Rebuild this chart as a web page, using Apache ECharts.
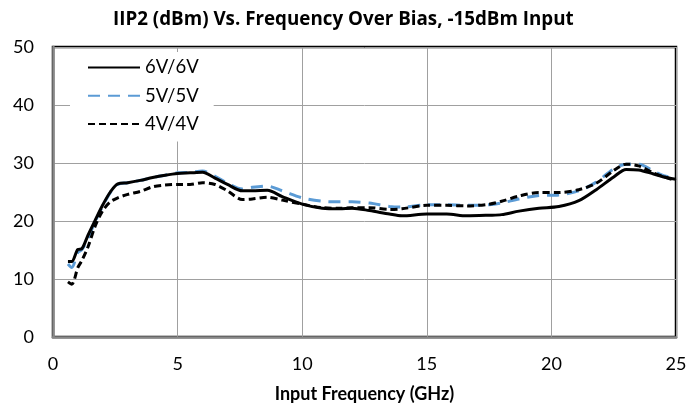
<!DOCTYPE html>
<html>
<head>
<meta charset="utf-8">
<script src="https://cdn.jsdelivr.net/npm/echarts@6/dist/echarts.min.js"></script>
<style>html,body{margin:0;padding:0;background:#fff;}#c{width:699px;height:404px;}</style>
</head>
<body>
<div id="c"></div>
<script>
const freq = [0.6, 0.75, 1.0, 1.15, 1.4, 1.7, 2.0, 2.3, 2.6, 3.0, 3.5, 4.0, 4.5, 5.0, 5.5, 6.0, 6.5, 7.0, 7.6, 8.0, 8.6, 9.2, 10.0, 10.8, 11.5, 12.0, 12.7, 13.5, 14.0, 15.0, 15.8, 16.6, 17.5, 18.0, 18.7, 19.5, 20.3, 21.1, 21.8, 22.5, 23.0, 23.5, 24.1, 24.6, 25.0];
const v6 = [13.0, 13.0, 15.1, 15.2, 17.5, 20.2, 22.8, 25.0, 26.4, 26.6, 27.0, 27.5, 27.9, 28.2, 28.3, 28.4, 27.4, 26.3, 25.2, 25.2, 25.3, 24.2, 22.9, 22.2, 22.1, 22.2, 21.8, 21.2, 20.9, 21.2, 21.2, 20.9, 21.0, 21.1, 21.7, 22.2, 22.5, 23.5, 25.4, 27.6, 28.9, 28.8, 28.1, 27.5, 27.2];
const v5 = [12.6, 12.0, 14.6, 15.0, 17.0, 20.0, 22.6, 24.9, 26.3, 26.6, 27.0, 27.5, 27.9, 28.3, 28.4, 28.6, 27.7, 26.5, 25.5, 25.8, 26.0, 25.2, 24.0, 23.4, 23.3, 23.3, 23.1, 22.5, 22.4, 22.8, 22.8, 22.7, 22.8, 23.1, 23.8, 24.4, 24.5, 25.2, 26.7, 29.0, 29.8, 29.8, 28.6, 27.7, 27.6];
const v4 = [9.5, 9.1, 12.0, 13.1, 15.5, 19.2, 21.8, 23.3, 24.0, 24.6, 25.1, 25.9, 26.2, 26.3, 26.3, 26.6, 26.3, 25.2, 23.7, 23.8, 24.1, 23.6, 22.9, 22.3, 22.2, 22.3, 22.3, 22.0, 22.1, 22.7, 22.7, 22.6, 22.9, 23.4, 24.3, 24.9, 24.9, 25.4, 26.5, 28.7, 29.8, 29.5, 28.3, 27.5, 27.0];
const seriesNames = ['6V/6V', '5V/5V', '4V/4V'];
const titleText = 'IIP2 (dBm) Vs. Frequency Over Bias, -15dBm Input';
const xName = 'Input Frequency (GHz)';

const FONT = 'Lato';
const pair = (ys) => freq.map((f, i) => [f, ys[i]]);
const chart = echarts.init(document.getElementById('c'), null, {renderer: 'canvas'});
chart.setOption({
  animation: false,
  backgroundColor: '#fff',
  title: {
    text: titleText, left: 108, top: 5,
    textStyle: {fontFamily: 'Open Sans', fontWeight: 'bold', fontSize: 18.8, color: '#000'}
  },
  grid: {left: 53, right: 23, top: 47, bottom: 67, containLabel: false, outerBoundsMode: 'none',
         show: true, borderColor: '#000', borderWidth: 2.5, backgroundColor: 'transparent'},
  legend: {
    orient: 'vertical', left: 70, top: 52, itemWidth: 52, itemHeight: 14, itemGap: 9.2,
    backgroundColor: '#fff', padding: [6, 15, 8, 17],
    itemStyle: {opacity: 0},
    textStyle: {fontFamily: FONT, fontSize: 18.5, color: '#000'},
    data: seriesNames
  },
  xAxis: {
    type: 'value', min: 0, max: 25, interval: 5,
    name: xName, nameLocation: 'middle', nameGap: 48,
    nameTextStyle: {fontFamily: FONT, fontWeight: 'bold', fontSize: 18, color: '#000'},
    axisLine: {show: true, lineStyle: {color: '#888', width: 2.5}},
    axisTick: {show: false},
    axisLabel: {fontFamily: FONT, fontSize: 18, color: '#000', margin: 18},
    splitLine: {show: true, lineStyle: {color: '#a0a0a0', width: 1}}
  },
  yAxis: {
    type: 'value', min: 0, max: 50, interval: 10,
    axisLine: {show: true, lineStyle: {color: '#888', width: 2.5}},
    axisTick: {show: false},
    axisLabel: {fontFamily: FONT, fontSize: 18, color: '#000', margin: 19},
    splitLine: {show: true, lineStyle: {color: '#a0a0a0', width: 1}}
  },
  series: [
    {name: seriesNames[0], type: 'line', data: pair(v6), symbol: 'none', smooth: 0.3,
     lineStyle: {color: '#000', width: 3, type: 'solid'}, itemStyle: {color: '#000'}, z: 4},
    {name: seriesNames[1], type: 'line', data: pair(v5), symbol: 'none', smooth: 0.3,
     lineStyle: {color: '#5B9BD5', width: 3, type: [12, 8]}, itemStyle: {color: '#5B9BD5'}, z: 3},
    {name: seriesNames[2], type: 'line', data: pair(v4), symbol: 'none', smooth: 0.3,
     lineStyle: {color: '#000', width: 3, type: [7, 4]}, itemStyle: {color: '#000'}, z: 5}
  ]
});
</script>
</body>
</html>
